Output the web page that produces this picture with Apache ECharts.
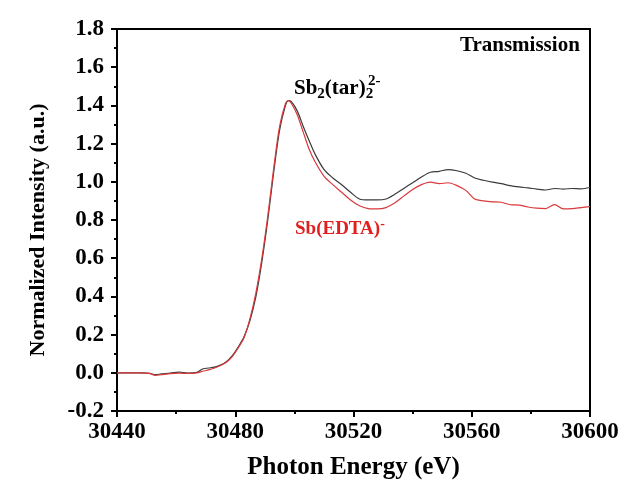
<!DOCTYPE html>
<html>
<head>
<meta charset="utf-8">
<script src="https://cdn.jsdelivr.net/npm/echarts@6/dist/echarts.min.js"></script>
<style>
  html, body { margin: 0; padding: 0; background: #fff; }
  #chart { width: 624px; height: 492px; }
</style>
</head>
<body>
<div id="chart"></div>
<script>
// Photon energy grid (eV)
var energy = [30440, 30444, 30448, 30451, 30453, 30455, 30458, 30461, 30464, 30467,
  30469, 30471, 30473, 30475, 30477, 30479, 30481, 30483, 30485, 30487,
  30489, 30491, 30493, 30495, 30497, 30498, 30499, 30501, 30503, 30505,
  30507, 30510, 30513, 30516, 30519, 30522, 30525, 30528, 30531, 30534,
  30537, 30540, 30543, 30546, 30549, 30552, 30555, 30558, 30561, 30564,
  30567, 30570, 30573, 30576, 30579, 30582, 30585, 30588, 30591, 30594,
  30597, 30600];

// Normalized XANES intensity, Sb2(tar)2^2-
var tarIntensity = [0.000, 0.000, 0.000, -0.003, -0.010, -0.006, -0.002, 0.004, -0.001, 0.002,
  0.020, 0.025, 0.030, 0.040, 0.058, 0.090, 0.135, 0.190, 0.275, 0.400,
  0.580, 0.800, 1.050, 1.270, 1.400, 1.425, 1.420, 1.370, 1.290, 1.215,
  1.145, 1.065, 1.020, 0.985, 0.945, 0.910, 0.905, 0.905, 0.910, 0.935,
  0.965, 0.995, 1.025, 1.050, 1.055, 1.064, 1.058, 1.045, 1.020, 1.008,
  0.998, 0.990, 0.980, 0.973, 0.968, 0.962, 0.957, 0.965, 0.962, 0.965,
  0.963, 0.970];

// Normalized XANES intensity, Sb(EDTA)^-
var edtaIntensity = [0.000, 0.000, 0.000, -0.003, -0.014, -0.010, -0.004, -0.002, -0.003, 0.000,
  0.008, 0.015, 0.025, 0.038, 0.055, 0.085, 0.130, 0.185, 0.285, 0.420,
  0.600, 0.820, 1.070, 1.290, 1.410, 1.425, 1.410, 1.350, 1.260, 1.170,
  1.105, 1.030, 0.985, 0.945, 0.905, 0.875, 0.860, 0.858, 0.865, 0.890,
  0.925, 0.960, 0.985, 0.998, 0.990, 0.995, 0.980, 0.955, 0.910, 0.900,
  0.895, 0.893, 0.880, 0.878, 0.868, 0.862, 0.860, 0.880, 0.858, 0.860,
  0.865, 0.870];

function pairs(xs, ys) {
  return xs.map(function (x, i) { return [x, ys[i]]; });
}

var FONT = '"Liberation Serif", "Times New Roman", serif';
var chart = echarts.init(document.getElementById('chart'), null, { renderer: 'canvas' });

chart.setOption({
  backgroundColor: '#ffffff',
  animation: false,
  grid: {
    left: 117, right: 34, top: 29, bottom: 81,
    show: true, borderColor: '#000', borderWidth: 2, backgroundColor: 'transparent'
  },
  xAxis: {
    type: 'value', min: 30440, max: 30600, interval: 40,
    name: 'Photon Energy (eV)', nameLocation: 'middle', nameGap: 44,
    nameTextStyle: { fontFamily: FONT, fontWeight: 'bold', fontSize: 25, color: '#000' },
    axisLine: { onZero: false, lineStyle: { color: '#000', width: 2 } },
    axisTick: { show: true, inside: false, length: 6, lineStyle: { color: '#000', width: 2 } },
    minorTick: { show: true, splitNumber: 2, length: 3, lineStyle: { color: '#000', width: 2 } },
    axisLabel: {
      fontFamily: FONT, fontWeight: 'bold', fontSize: 23, color: '#000', margin: 10,
      formatter: function (v) { return String(v); }
    },
    splitLine: { show: false }
  },
  yAxis: {
    type: 'value', min: -0.2, max: 1.8, interval: 0.2,
    name: 'Normalized Intensity (a.u.)', nameLocation: 'middle', nameGap: 68,
    nameTextStyle: { fontFamily: FONT, fontWeight: 'bold', fontSize: 22, color: '#000', padding: [0, 20, 0, 0] },
    axisLine: { onZero: false, lineStyle: { color: '#000', width: 2 } },
    axisTick: { show: true, inside: false, length: 6, lineStyle: { color: '#000', width: 2 } },
    minorTick: { show: true, splitNumber: 2, length: 3, lineStyle: { color: '#000', width: 2 } },
    axisLabel: {
      fontFamily: FONT, fontWeight: 'bold', fontSize: 23, color: '#000', margin: 13,
      formatter: function (v) { return v.toFixed(1); }
    },
    splitLine: { show: false }
  },
  series: [
    {
      name: 'Sb2(tar)2', type: 'line', data: pairs(energy, tarIntensity),
      showSymbol: false, smooth: 0.3,
      lineStyle: { color: '#3a3a3a', width: 1.2 }, z: 2
    },
    {
      name: 'Sb(EDTA)', type: 'line', data: pairs(energy, edtaIntensity),
      showSymbol: false, smooth: 0.3,
      lineStyle: { color: '#d9393b', width: 1.2 }, z: 3
    }
  ],
  graphic: [
    {
      type: 'text', left: 460, top: 35,
      style: { text: 'Transmission', font: 'bold 21px ' + FONT, fill: '#000' }
    },
    {
      // formula with subscripts; the charge is stacked above the last subscript
      type: 'text', left: 294, top: 78,
      style: {
        text: 'Sb{sub|2}(tar){sub|2}',
        font: 'bold 21px ' + FONT, fill: '#000',
        rich: {
          sub: { font: 'bold 15px ' + FONT, fill: '#000', verticalAlign: 'bottom', padding: [11, 0, 0, 0] }
        }
      }
    },
    {
      type: 'text', left: 368, top: 74,
      style: { text: '2-', font: 'bold 15px ' + FONT, fill: '#000' }
    },
    {
      type: 'text', left: 295, top: 217,
      style: {
        text: 'Sb(EDTA){sup|-}',
        font: 'bold 19px ' + FONT, fill: '#e02020',
        rich: {
          sup: { font: 'bold 14px ' + FONT, fill: '#e02020', padding: [0, 0, 10, 0] }
        }
      }
    }
  ]
});
</script>
</body>
</html>
